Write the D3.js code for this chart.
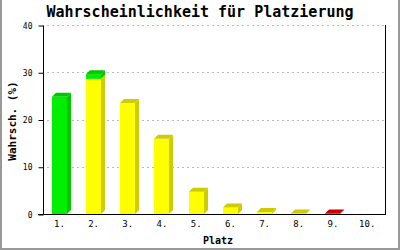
<!DOCTYPE html>
<html>
<head>
<meta charset="utf-8">
<script src="https://cdn.jsdelivr.net/npm/d3@7"></script>
<style>
  body { margin: 0; background: #fff; }
  svg { display: block; }
</style>
</head>
<body>
<div class="chart"></div>
<script>
// Wahrscheinlichkeit je Platz, gestapelt: gruen / gelb / rot
var places = ["1.", "2.", "3.", "4.", "5.", "6.", "7.", "8.", "9.", "10."];
var greenVals  = [24.8, 1.0, 0, 0, 0, 0, 0, 0, 0, 0];
var yellowVals = [0, 28.6, 23.5, 15.9, 4.7, 1.35, 0.4, 0.1, 0, 0];
var redVals    = [0, 0, 0, 0, 0, 0, 0, 0, 0.1, 0];
var yTicks = [0, 10, 20, 30, 40];

var seriesKeys = ["yellow", "green", "red"];
var colors = {
    green:  { front: "#00ee00", dark: "#00c800" },
    yellow: { front: "#ffff00", dark: "#cccc00" },
    red:    { front: "#ee0000", dark: "#cc0000" }
};

var table = places.map(function(p, i) {
    return { place: p, green: greenVals[i], yellow: yellowVals[i], red: redVals[i] };
});

var W = 400, H = 250;
var plotLeft = 43, plotRight = 385, plotTop = 25, plotBottom = 214;
var depthX = 4, depthY = 4;

var svg = d3.select(".chart").append("svg")
    .attr("width", W)
    .attr("height", H);

svg.append("rect").attr("width", W).attr("height", H).attr("fill", "#fff");

// frame (left, right, bottom)
svg.append("path")
    .attr("d", "M1,0V249H399V0")
    .attr("fill", "none")
    .attr("stroke", "#999")
    .attr("stroke-width", 2);

var x = d3.scaleBand()
    .domain(places)
    .range([plotLeft, plotRight])
    .padding(0);

var y = d3.scaleLinear()
    .domain([0, 40])
    .range([plotBottom, plotTop]);

var barOff = x.bandwidth() * 0.26,
    barW = Math.round(x.bandwidth() * 0.45);

// grid
svg.append("g").selectAll("line")
    .data(yTicks.filter(function(t) { return t > 0; }))
    .enter().append("line")
    .attr("x1", plotLeft + 4)
    .attr("x2", plotRight)
    .attr("y1", function(d) { return Math.round(y(d)) + 0.5; })
    .attr("y2", function(d) { return Math.round(y(d)) + 0.5; })
    .attr("stroke", "#bbb")
    .attr("stroke-dasharray", "2,3");

// bars
var stacked = d3.stack().keys(seriesKeys)(table);

var barsG = svg.append("g");
table.forEach(function(d, i) {
    var bx = Math.round(x(d.place) + barOff);
    var topKey = null;
    stacked.forEach(function(s) {
        var seg = s[i];
        if (seg[1] - seg[0] <= 0) return;
        topKey = s.key;
        var y0 = y(seg[0]), y1 = y(seg[1]);
        var c = colors[s.key];
        barsG.append("rect")
            .attr("x", bx).attr("y", y1)
            .attr("width", barW).attr("height", y0 - y1)
            .attr("fill", c.front);
        barsG.append("path")
            .attr("d", "M" + (bx + barW) + "," + y0 +
                "L" + (bx + barW + depthX) + "," + (y0 - depthY) +
                "L" + (bx + barW + depthX) + "," + (y1 - depthY) +
                "L" + (bx + barW) + "," + y1 + "Z")
            .attr("fill", c.dark);
    });
    if (topKey) {
        var yt = y(stacked[seriesKeys.length - 1][i][1]);
        barsG.append("path")
            .attr("d", "M" + bx + "," + yt +
                "L" + (bx + depthX) + "," + (yt - depthY) +
                "L" + (bx + barW + depthX) + "," + (yt - depthY) +
                "L" + (bx + barW) + "," + yt + "Z")
            .attr("fill", colors[topKey].dark);
    }
});

// axes
var yAxis = d3.axisLeft(y).tickValues(yTicks).tickSize(5).tickPadding(6);
var yG = svg.append("g")
    .attr("transform", "translate(" + (plotLeft + 0.5) + ",0.5)")
    .call(yAxis);
yG.select(".domain").attr("d", "M0," + plotTop + "V" + plotBottom);
yG.selectAll("text")
    .attr("font-family", "DejaVu Sans Mono, monospace")
    .attr("font-size", 8)
    .attr("fill", "#000");

svg.append("line")
    .attr("x1", plotLeft - 5).attr("x2", plotRight + 1)
    .attr("y1", plotBottom + 0.5).attr("y2", plotBottom + 0.5)
    .attr("stroke", "#000");
svg.append("line")
    .attr("x1", plotRight + 0.5).attr("x2", plotRight + 0.5)
    .attr("y1", plotTop).attr("y2", plotBottom)
    .attr("stroke", "#000");

svg.append("g").selectAll("text")
    .data(places)
    .enter().append("text")
    .attr("x", function(d) { return x(d) + barOff + barW / 2; })
    .attr("y", 227)
    .attr("text-anchor", "middle")
    .attr("font-family", "DejaVu Sans Mono, monospace")
    .attr("font-size", 9)
    .text(function(d) { return d; });

// titles
svg.append("text")
    .attr("x", 200).attr("y", 17)
    .attr("text-anchor", "middle")
    .attr("font-family", "DejaVu Sans Mono, monospace")
    .attr("font-weight", "bold")
    .attr("font-size", 15)
    .text("Wahrscheinlichkeit für Platzierung");

svg.append("text")
    .attr("x", 218).attr("y", 244)
    .attr("text-anchor", "middle")
    .attr("font-family", "DejaVu Sans Mono, monospace")
    .attr("font-weight", "bold")
    .attr("font-size", 10)
    .text("Platz");

svg.append("text")
    .attr("transform", "translate(16,121) rotate(-90)")
    .attr("text-anchor", "middle")
    .attr("font-family", "DejaVu Sans Mono, monospace")
    .attr("font-weight", "bold")
    .attr("font-size", 11)
    .text("Wahrsch. (%)");
</script>
</body>
</html>
